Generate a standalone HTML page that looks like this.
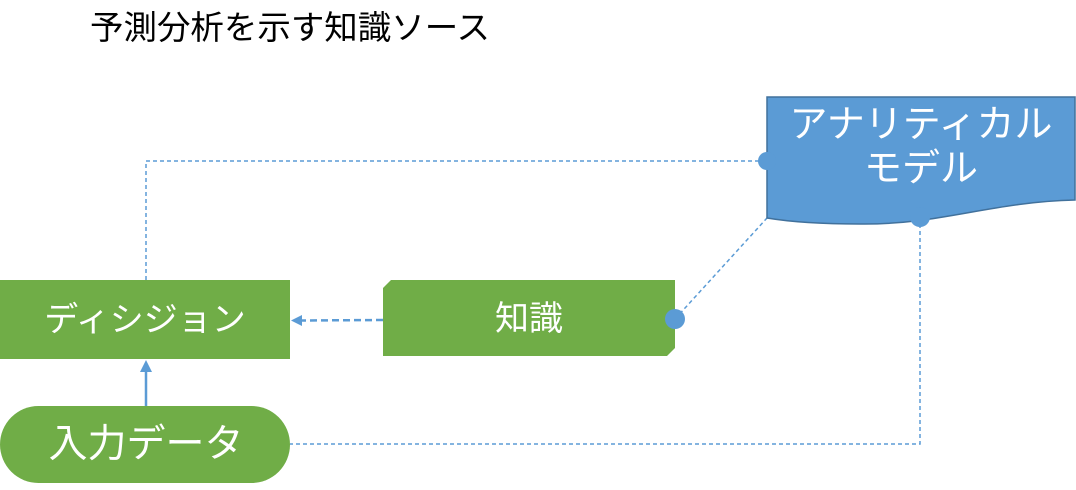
<!DOCTYPE html>
<html><head><meta charset="utf-8"><style>
body{margin:0;width:1076px;height:490px;background:#fff;overflow:hidden}
svg{position:absolute;left:0;top:0}
text{font-family:"Liberation Sans","Noto Sans CJK JP",sans-serif}
</style></head><body>
<svg width="1076" height="490" viewBox="0 0 1076 490">
<text x="90" y="39" font-size="33" fill="#000" textLength="400" lengthAdjust="spacingAndGlyphs">予測分析を示す知識ソース</text>
<g stroke="#5b9bd5" stroke-width="1.5" stroke-dasharray="4,3" fill="none">
<polyline points="146,280 146,161 767,161"/>
<line x1="675" y1="319" x2="767" y2="218"/>
<polyline points="920,217 920,444 290,444"/>
</g>
<line x1="383" y1="320" x2="300" y2="320.5" stroke="#5b9bd5" stroke-width="2.5" stroke-dasharray="7,4"/>
<polygon points="291,320.5 302,315 302,326" fill="#5b9bd5"/>
<line x1="146" y1="406" x2="146" y2="370" stroke="#5b9bd5" stroke-width="2.5"/>
<polygon points="146,360 140,372 152,372" fill="#5b9bd5"/>
<rect x="0" y="280" width="290" height="79" fill="#70ad47"/>
<text x="145" y="331" font-size="34" fill="#fff" text-anchor="middle">ディシジョン</text>
<rect x="0" y="406" width="290" height="77" rx="38.5" fill="#70ad47"/>
<text x="146" y="457" font-size="39" fill="#fff" text-anchor="middle">入力データ</text>
<polygon points="391,280 675,280 675,348 667,356 383,356 383,288" fill="#70ad47"/>
<text x="529" y="330" font-size="34" fill="#fff" text-anchor="middle">知識</text>
<path d="M767,97 H1075 V200 C990,202 940,225 860,224 C810,224 785,221 767,218 Z" fill="#5b9bd5" stroke="#41719c" stroke-width="1.5"/>
<text x="921" y="137" font-size="38" fill="#fff" text-anchor="middle">アナリティカル</text>
<text x="921" y="181" font-size="38" fill="#fff" text-anchor="middle">モデル</text>
<g fill="#5b9bd5">
<circle cx="767" cy="161" r="9"/>
<circle cx="675" cy="319" r="10"/>
<circle cx="920" cy="217" r="10"/>
</g>
</svg>
</body></html>
